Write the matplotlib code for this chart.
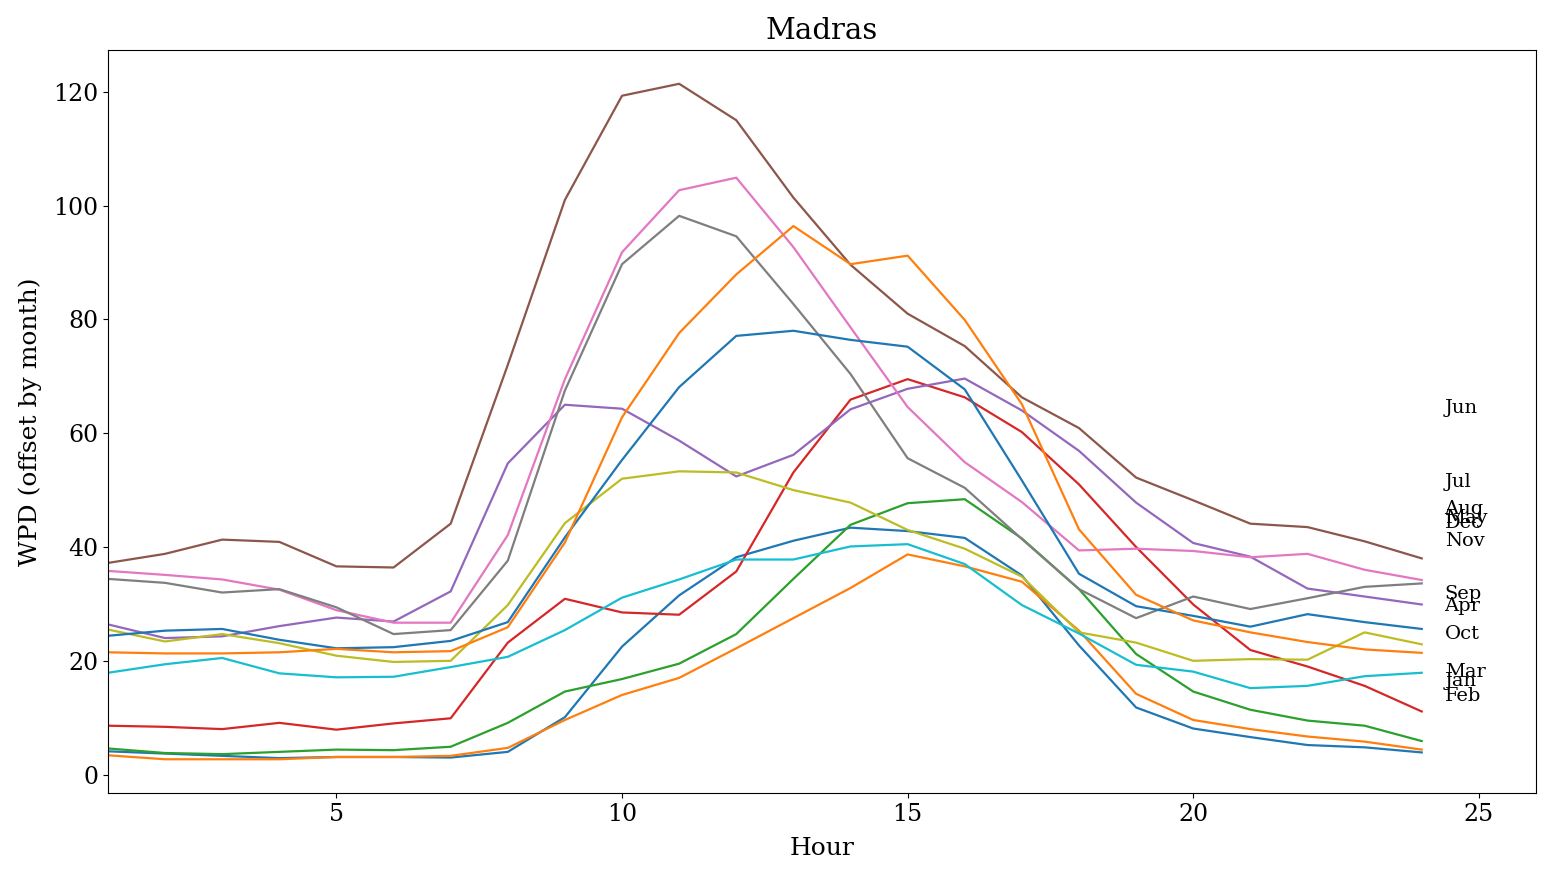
import numpy as np
import matplotlib
matplotlib.use("Agg")
import matplotlib.pyplot as plt

plt.rcParams['font.family'] = ['DejaVu Serif']

# hourly WPD per month
hours = list(range(1, 25))
months = ['Jan', 'Feb', 'Mar', 'Apr', 'May', 'Jun',
          'Jul', 'Aug', 'Sep', 'Oct', 'Nov', 'Dec']

jan = [4.1, 3.7, 3.3, 2.9, 3.1, 3.1, 3.0, 4.0, 10.1, 22.5, 31.5, 38.2,
       41.1, 43.4, 42.8, 41.6, 35.0, 22.7, 11.8, 8.1, 6.6, 5.2, 4.8, 3.9]
feb = [3.4, 2.7, 2.7, 2.7, 3.1, 3.1, 3.3, 4.7, 9.6, 14.0, 17.0, 22.2,
       27.5, 32.8, 38.7, 36.6, 33.9, 25.3, 14.2, 9.6, 8.0, 6.7, 5.8, 4.4]
mar = [4.6, 3.8, 3.6, 4.0, 4.4, 4.3, 4.9, 9.1, 14.6, 16.8, 19.5, 24.7,
       34.4, 43.9, 47.7, 48.4, 41.5, 32.6, 21.2, 14.6, 11.4, 9.5, 8.6, 5.9]
apr = [8.6, 8.4, 8.0, 9.1, 7.9, 9.0, 9.9, 23.2, 30.9, 28.5, 28.1, 35.7,
       53.1, 65.9, 69.5, 66.3, 60.2, 51.0, 40.0, 29.9, 21.9, 19.0, 15.6, 11.1]
may = [26.4, 24.0, 24.3, 26.1, 27.6, 26.9, 32.2, 54.7, 65.0, 64.3, 58.7, 52.4,
       56.2, 64.2, 67.8, 69.6, 64.0, 56.9, 47.8, 40.7, 38.3, 32.7, 31.3, 29.9]
jun = [37.2, 38.8, 41.3, 40.9, 36.6, 36.4, 44.1, 72.0, 101.0, 119.3, 121.4, 115.0,
       101.4, 89.6, 81.0, 75.3, 66.3, 60.9, 52.2, 48.2, 44.1, 43.5, 41.0, 38.0]
jul = [35.8, 35.1, 34.3, 32.5, 28.9, 26.7, 26.7, 42.1, 69.5, 91.8, 102.7, 104.9,
       92.7, 78.6, 64.6, 54.9, 47.9, 39.4, 39.7, 39.3, 38.2, 38.8, 36.0, 34.2]
aug = [34.4, 33.7, 32.0, 32.6, 29.4, 24.7, 25.4, 37.6, 67.5, 89.7, 98.2, 94.6,
       82.7, 70.4, 55.6, 50.4, 41.4, 32.6, 27.5, 31.3, 29.1, 31.0, 33.0, 33.6]
sep = [25.5, 23.4, 24.7, 23.1, 20.9, 19.8, 20.0, 29.8, 44.2, 52.0, 53.3, 53.1,
       50.0, 47.8, 43.0, 39.7, 34.8, 25.0, 23.2, 20.0, 20.3, 20.2, 25.0, 22.9]
oct_ = [17.9, 19.4, 20.5, 17.8, 17.1, 17.2, 18.9, 20.7, 25.4, 31.1, 34.3, 37.8,
        37.8, 40.1, 40.5, 37.0, 29.8, 24.8, 19.3, 18.1, 15.2, 15.6, 17.3, 17.9]
nov = [24.4, 25.3, 25.6, 23.7, 22.2, 22.4, 23.5, 26.8, 41.7, 55.3, 68.1, 77.1,
       78.0, 76.4, 75.2, 67.7, 51.7, 35.3, 29.6, 27.9, 26.0, 28.2, 26.8, 25.6]
dec = [21.5, 21.3, 21.3, 21.5, 22.1, 21.5, 21.7, 25.9, 40.8, 62.8, 77.6, 87.9,
       96.4, 89.7, 91.2, 79.9, 65.1, 43.1, 31.6, 27.1, 25.0, 23.3, 22.0, 21.4]

wpd = [jan, feb, mar, apr, may, jun, jul, aug, sep, oct_, nov, dec]

fig = plt.figure(figsize=(15.51, 8.76), dpi=100)
ax = fig.add_axes([0.0696, 0.0947, 0.9207, 0.8482])

for name, vals in zip(months, wpd):
    ax.plot(hours, vals, linewidth=1.6)
    # month name beside the curves, at the month's mean level
    ax.text(24.4, np.mean(vals), name, fontsize=14, va='center', ha='left')

ax.set_xlim(1, 26)
ax.set_title('Madras', fontsize=21, pad=8)
ax.set_xlabel('Hour', fontsize=18, labelpad=8)
ax.set_ylabel('WPD (offset by month)', fontsize=18, labelpad=8)
ax.tick_params(labelsize=17)

fig.savefig('out.png', dpi=100)
